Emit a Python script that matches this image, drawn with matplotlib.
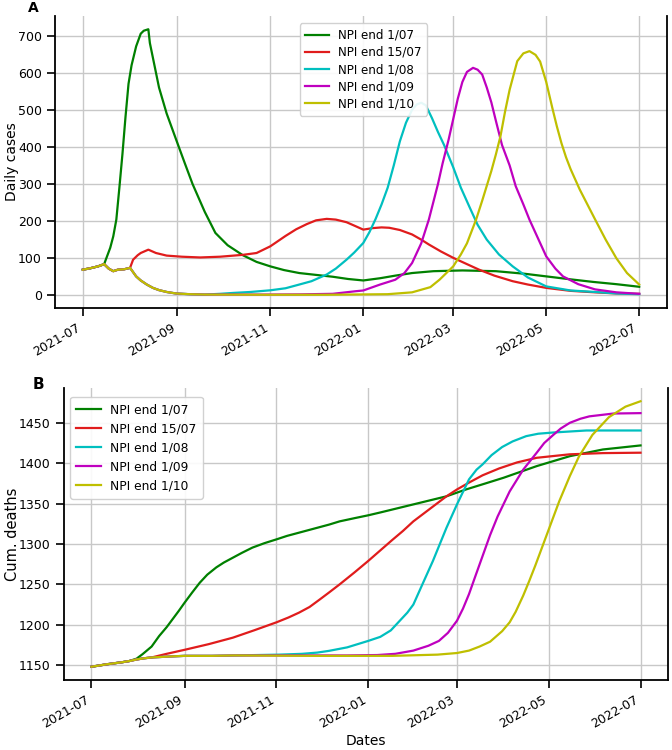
"""
Two-panel NPI scenario chart: daily cases (A) and cumulative deaths (B).
"""

import matplotlib
matplotlib.use("Agg")
import matplotlib.pyplot as plt
import matplotlib.dates as mdates
import pandas as pd

START = pd.Timestamp("2021-07-01")
LABELS = ["NPI end 1/07", "NPI end 15/07", "NPI end 1/08", "NPI end 1/09", "NPI end 1/10"]
COLORS = ["g", "#e01c1c", "c", "m", "y"]

# --- Panel A: daily cases, (day offset from 2021-07-01, value) ---
common_a = [(0, 69), (5, 73), (10, 78), (14, 84)]
common_a2 = [(17, 72), (20, 65), (23, 69), (27, 70), (31, 74)]
common_a3 = [(35, 51), (38, 40), (42, 29), (46, 20), (50, 14), (55, 9), (61, 5), (70, 3), (80, 2)]

cases_green = common_a + [
    (18, 128), (20, 159), (22, 204), (24, 290), (26, 380), (28, 480), (30, 570), (32, 620),
    (35, 671), (38, 705), (40, 713), (43, 717), (44, 680), (47, 620), (50, 560), (55, 490),
    (62, 411), (67, 355), (72, 300), (80, 225), (87, 168), (95, 135), (105, 108), (114, 90),
    (123, 78), (132, 68), (142, 60), (153, 55), (164, 50), (174, 44), (184, 40), (195, 46),
    (205, 53), (216, 60), (230, 65), (249, 67), (271, 65), (290, 58), (304, 51), (320, 43),
    (335, 36), (350, 30), (365, 23)]
cases_red = common_a + common_a2 + [
    (33, 96), (36, 108), (38, 114), (43, 123), (48, 114), (55, 107), (65, 104), (77, 102),
    (90, 104), (105, 109), (114, 114), (123, 132), (133, 160), (140, 178), (147, 192),
    (153, 202), (160, 206), (166, 204), (173, 197), (178, 188), (184, 177), (190, 181),
    (196, 183), (201, 182), (208, 176), (216, 164), (222, 150), (227, 137), (235, 118),
    (243, 101), (252, 84), (260, 69), (270, 53), (282, 38), (292, 29), (304, 20), (320, 12),
    (336, 8), (350, 5), (365, 4)]
cases_cyan = common_a + common_a2 + common_a3 + [
    (90, 4), (99, 6.5), (110, 9), (123, 13.5), (133, 19), (142, 29), (150, 38), (160, 56),
    (166, 72), (173, 96), (178, 115), (184, 141), (188, 170), (192, 205), (196, 245),
    (200, 290), (204, 350), (208, 415), (212, 465), (216, 500), (219, 514), (222, 519),
    (225, 512), (229, 478), (233, 440), (237, 405), (243, 345), (248, 290), (254, 235),
    (259, 190), (265, 150), (273, 110), (282, 78), (292, 48), (304, 24), (320, 13), (336, 9),
    (350, 5), (365, 3)]
cases_magenta = common_a + common_a2 + common_a3 + [
    (100, 2), (120, 2), (142, 2.5), (164, 4), (179, 11), (184, 13), (195, 29), (205, 42),
    (211, 60), (216, 87), (222, 140), (227, 204), (233, 300), (236, 355), (240, 420),
    (243, 475), (246, 530), (249, 575), (252, 602), (256, 613), (259, 608), (262, 595),
    (265, 560), (268, 520), (271, 470), (275, 405), (280, 350), (284, 294), (289, 245),
    (293, 204), (299, 150), (304, 105), (310, 72), (315, 51), (325, 30), (336, 16), (350, 8),
    (365, 4)]
cases_yellow = common_a + common_a2 + common_a3 + [
    (120, 1.5), (160, 1.5), (200, 3), (216, 8), (228, 22), (234, 42), (243, 78), (248, 110),
    (252, 140), (258, 204), (262, 255), (265, 295), (268, 335), (271, 380), (274, 429),
    (277, 495), (280, 554), (285, 631), (289, 652), (293, 658), (297, 648), (300, 630),
    (304, 575), (308, 505), (311, 455), (314, 410), (317, 372), (320, 340), (326, 285),
    (331, 245), (336, 205), (343, 150), (350, 100), (357, 60), (365, 29)]

# --- Panel B: cumulative deaths ---
common_b = [(0, 1148), (10, 1151), (20, 1153.5), (25, 1155)]
common_b2 = [(30, 1157), (35, 1158.5), (40, 1159.5)]
common_b3 = [(50, 1160.5), (62, 1161.5), (80, 1161.5), (95, 1162)]

deaths_green = common_b + [
    (30, 1158), (34, 1163.6), (40, 1173), (45, 1186), (50, 1197), (54, 1207), (58, 1217),
    (62, 1227.5), (67, 1240), (72, 1252), (77, 1262), (83, 1271), (88, 1277), (94, 1283),
    (100, 1289), (107, 1295.5), (115, 1301), (123, 1305.7), (130, 1310), (138, 1314),
    (150, 1320), (158, 1324), (165, 1328), (175, 1332), (184, 1335.5), (192, 1339),
    (203, 1344), (214, 1349), (236, 1359), (249, 1367.5), (262, 1375), (274, 1382),
    (296, 1396.4), (318, 1408.7), (340, 1417), (365, 1422)]
deaths_red = common_b + common_b2 + [
    (50, 1164), (62, 1169), (78, 1176), (94, 1184), (108, 1193), (123, 1203), (131, 1209),
    (138, 1215), (145, 1222), (152, 1231.6), (158, 1240), (165, 1250), (175, 1265),
    (184, 1279), (192, 1292), (200, 1305), (207, 1316), (214, 1328), (236, 1359),
    (243, 1367.5), (251, 1376), (260, 1385), (271, 1393.5), (283, 1401), (296, 1406.7),
    (318, 1411), (340, 1412.5), (365, 1413)]
deaths_cyan = common_b + common_b2 + common_b3 + [
    (110, 1162.5), (125, 1163), (140, 1164), (150, 1165.5), (158, 1167.7), (170, 1172),
    (184, 1180), (192, 1185), (199, 1193), (205, 1205), (210, 1215), (214, 1225),
    (220, 1250), (227, 1279), (236, 1320), (243, 1349), (251, 1380), (256, 1392),
    (260, 1398.5), (266, 1410), (273, 1420), (280, 1427), (289, 1433.5), (297, 1436.5),
    (307, 1438), (329, 1440.5), (365, 1440.5)]
deaths_magenta = common_b + common_b2 + common_b3 + [
    (130, 1162), (170, 1162), (190, 1162.5), (202, 1164), (214, 1168), (224, 1174),
    (231, 1180), (237, 1190), (243, 1205), (247, 1220), (251, 1238), (255, 1259),
    (260, 1285), (265, 1311), (270, 1334), (278, 1365), (287, 1392), (296, 1413),
    (301, 1425), (307, 1435), (312, 1443), (318, 1450), (325, 1455), (331, 1458),
    (347, 1461.5), (365, 1462)]
deaths_yellow = common_b + common_b2 + common_b3 + [
    (150, 1161.5), (200, 1161.5), (230, 1163), (243, 1165), (251, 1168), (258, 1173),
    (265, 1179), (273, 1192), (278, 1203), (282, 1216), (287, 1236), (291, 1254),
    (295, 1273), (299, 1293), (304, 1318), (311, 1353), (318, 1384), (324, 1408),
    (333, 1435), (344, 1457), (355, 1470), (365, 1476.7)]


def to_series(points):
    days = [p[0] for p in points]
    vals = [p[1] for p in points]
    return START + pd.to_timedelta(days, unit="D"), vals


def style_axis(ax, fs):
    ax.grid(True, color="#c8c8c8", linewidth=1.0)
    ax.set_axisbelow(True)
    ax.spines["top"].set_visible(False)
    for s in ("left", "bottom", "right"):
        ax.spines[s].set_linewidth(1.3)
    ax.tick_params(axis="both", direction="out", length=6, width=1.2, labelsize=fs)
    ax.xaxis.set_major_locator(mdates.MonthLocator(bymonth=[1, 3, 5, 7, 9, 11]))
    ax.xaxis.set_major_formatter(mdates.DateFormatter("%Y-%m"))
    for lab in ax.get_xticklabels():
        lab.set_rotation(30)
        lab.set_ha("right")


fig = plt.figure(figsize=(6.72, 7.5), dpi=100)

# Panel A
ax1 = fig.add_axes([0.0818, 0.5893, 0.9108, 0.3894])
for pts, lab, col in zip([cases_green, cases_red, cases_cyan, cases_magenta, cases_yellow],
                         LABELS, COLORS):
    x, y = to_series(pts)
    ax1.plot(x, y, color=col, linewidth=1.6, label=lab)
style_axis(ax1, 9)
ax1.set_yticks([0, 100, 200, 300, 400, 500, 600, 700])
ax1.set_ylabel("Daily cases", fontsize=10)
ax1.yaxis.set_label_coords(-0.058, 0.5)
ax1.legend(loc="upper left", bbox_to_anchor=(0.39, 0.995), fontsize=8.6,
           handlelength=2.0, borderpad=0.45, labelspacing=0.35, framealpha=0.9)
fig.text(0.042, 0.999, "A", fontsize=10, fontweight="bold", va="top", ha="left")

# Panel B
ax2 = fig.add_axes([0.0952, 0.0933, 0.8988, 0.3894])
for pts, lab, col in zip([deaths_green, deaths_red, deaths_cyan, deaths_magenta, deaths_yellow],
                         LABELS, COLORS):
    x, y = to_series(pts)
    ax2.plot(x, y, color=col, linewidth=1.6, label=lab)
style_axis(ax2, 9)
ax2.set_yticks([1150, 1200, 1250, 1300, 1350, 1400, 1450])
ax2.set_ylabel("Cum. deaths", fontsize=10.5)
ax2.yaxis.set_label_coords(-0.072, 0.5)
ax2.set_xlabel("Dates", fontsize=10)
ax2.xaxis.set_label_coords(0.5, -0.185)
ax2.legend(loc="upper left", bbox_to_anchor=(0.0, 0.99), fontsize=8.8, handlelength=2.0,
           borderpad=0.5, labelspacing=0.5, framealpha=0.9)
fig.text(0.049, 0.497, "B", fontsize=11, fontweight="bold", va="top", ha="left")

fig.savefig("out.png", dpi=100)
